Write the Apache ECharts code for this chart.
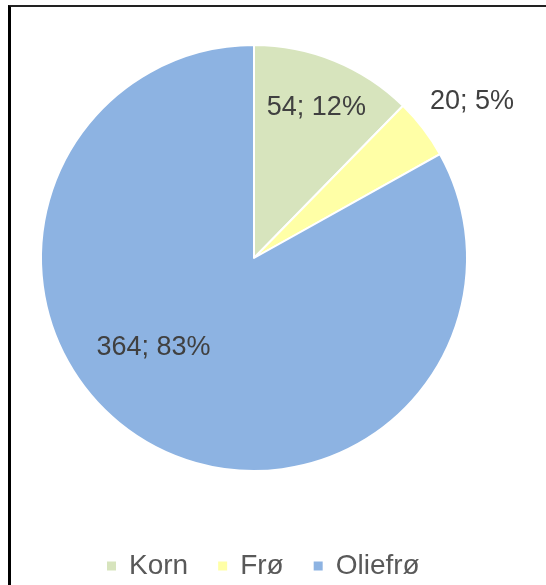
<!DOCTYPE html>
<html><head><meta charset="utf-8">
<script src="https://cdn.jsdelivr.net/npm/echarts@6/dist/echarts.min.js"></script>
<style>
html,body{margin:0;padding:0;background:#fff;}
#wrap{position:relative;width:546px;height:585px;}
#chart{width:546px;height:585px;}
#frame{position:absolute;left:8px;top:5px;right:0;bottom:0;border-top:2px solid #222;border-left:3px solid #000;pointer-events:none;}
</style></head>
<body>
<div id="wrap"><div id="chart"></div><div id="frame"></div></div>
<script>
var categories = ['Korn', 'Frø', 'Oliefrø'];
var values = [54, 20, 364];
var colors = ['#D7E4BD', '#FFFFA6', '#8DB3E2'];
var labelOffsets = [[21, -49], [131, -90], [-45, -5]];

var chart = echarts.init(document.getElementById('chart'));
chart.setOption({
  animation: false,
  legend: {
    top: 547,
    left: 100,
    icon: 'rect',
    itemWidth: 11,
    itemHeight: 11,
    itemGap: 28,
    textStyle: { fontFamily: 'Liberation Sans', fontSize: 28, color: '#595959', padding: [0, 0, 0, 7] },
    data: categories
  },
  series: [{
    type: 'pie',
    center: [254, 258],
    radius: 213,
    startAngle: 90,
    clockwise: true,
    percentPrecision: 0,
    itemStyle: { borderColor: '#fff', borderWidth: 2 },
    label: {
      position: 'inside',
      formatter: '{c}; {d}%',
      fontFamily: 'Liberation Sans',
      fontSize: 27,
      color: '#404040'
    },
    labelLine: { show: false },
    emphasis: { disabled: true },
    data: categories.map(function (c, i) {
      return { name: c, value: values[i], itemStyle: { color: colors[i] }, label: { offset: labelOffsets[i] } };
    })
  }]
});
</script>
</body></html>
